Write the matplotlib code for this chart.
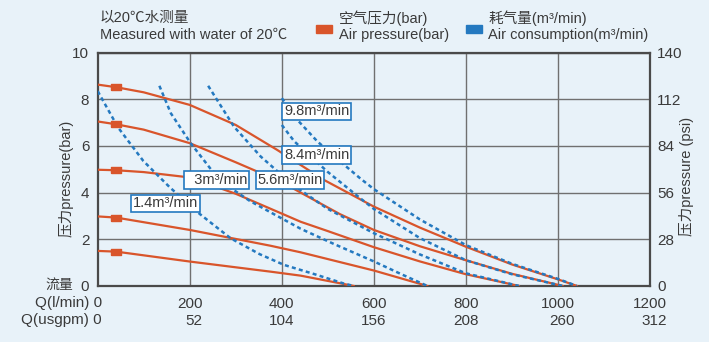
import matplotlib.pyplot as plt
from matplotlib.patches import Rectangle

plt.rcParams['font.family'] = ['Liberation Sans', 'Noto Sans CJK SC', 'DejaVu Sans']

# pressure curves (bar) vs flow Q (l/min)
q_86 = [0, 40, 100, 200, 300, 390, 491, 600, 700, 800, 900, 1000, 1041]
p_86 = [8.63, 8.52, 8.3, 7.76, 6.9, 5.83, 4.55, 3.4, 2.5, 1.68, 0.92, 0.28, 0]
q_7 = [0, 40, 100, 200, 300, 400, 441, 526, 600, 700, 800, 900, 1010]
p_7 = [7.05, 6.93, 6.7, 6.12, 5.3, 4.45, 4.0, 3.08, 2.4, 1.7, 1.1, 0.52, 0]
q_5 = [0, 40, 100, 200, 300, 400, 441, 500, 600, 700, 800, 915]
p_5 = [4.98, 4.96, 4.88, 4.65, 3.95, 3.1, 2.75, 2.35, 1.66, 1.05, 0.5, 0]
q_3 = [0, 40, 200, 376, 441, 600, 716]
p_3 = [2.98, 2.93, 2.4, 1.72, 1.44, 0.66, 0]
q_15 = [0, 40, 202, 376, 441, 556]
p_15 = [1.5, 1.47, 1.04, 0.61, 0.44, 0]

# air consumption lines
q_c14 = [0, 44, 99, 157, 222, 289, 352, 405, 470, 535, 556]
p_c14 = [8.35, 6.8, 5.36, 4.22, 3.08, 2.04, 1.36, 0.9, 0.51, 0.1, 0]
q_c3 = [134, 159, 202, 246, 289, 330, 376, 441, 513, 600, 660, 716]
p_c3 = [8.58, 7.4, 6.12, 5.0, 4.2, 3.65, 3.15, 2.45, 1.8, 1.05, 0.5, 0]
q_c56 = [240, 296, 354, 400, 441, 500, 600, 700, 800, 915]
p_c56 = [8.58, 6.83, 5.55, 4.75, 4.1, 3.3, 2.26, 1.35, 0.54, 0]
q_c84 = [400, 427, 499, 571, 600, 700, 800, 900, 1010]
p_c84 = [6.9, 6.2, 4.9, 3.75, 3.3, 2.05, 1.1, 0.5, 0]
q_c98 = [400, 437, 477, 520, 571, 600, 700, 800, 900, 1000, 1041]
p_c98 = [8.05, 7.05, 6.2, 5.45, 4.6, 4.15, 2.85, 1.75, 0.95, 0.3, 0]

labels = ['1.4m³/min', '  3m³/min', '5.6m³/min', '8.4m³/min', '9.8m³/min']
label_q = [147, 259, 418, 476, 476]
label_p = [3.54, 4.54, 4.54, 5.62, 7.48]

q_lmin = [200, 400, 600, 800, 1000, 1200]
q_gpm = [52, 104, 156, 208, 260, 312]
psi = [0, 28, 56, 84, 112, 140]

orange = '#d9552b'
blue = '#2479c0'
txt = '#3a3a3a'
bg = '#e8f2f9'
rect_marker = [(-1, -0.55), (1, -0.55), (1, 0.55), (-1, 0.55), (-1, -0.55)]

fig = plt.figure(figsize=(7.09, 3.42), dpi=100)
fig.patch.set_facecolor(bg)
ax = fig.add_axes([0.1378, 0.164, 0.779, 0.682])
ax.set_facecolor(bg)
ax.set_xlim(0, 1200)
ax.set_ylim(0, 10)

for q, p in [(q_86, p_86), (q_7, p_7), (q_5, p_5), (q_3, p_3), (q_15, p_15)]:
    ax.plot(q, p, color=orange, lw=1.6, zorder=3)
    ax.plot(q[1], p[1], marker=rect_marker, color=orange, ms=7.5, zorder=4)

for q, p in [(q_c14, p_c14), (q_c3, p_c3), (q_c56, p_c56), (q_c84, p_c84), (q_c98, p_c98)]:
    ax.plot(q, p, color=blue, lw=1.8, dashes=(1.6, 1.3), zorder=3)

for s, x, y in zip(labels, label_q, label_p):
    ax.text(x, y, s, ha='center', va='center', fontsize=10.5, color=txt, zorder=6,
            bbox=dict(boxstyle='square,pad=0.12', fc='white', ec=blue, lw=1.2))

ax.set_xticks(q_lmin)
ax.set_xticklabels([f'{a}\n{b}' for a, b in zip(q_lmin, q_gpm)], fontsize=11, color=txt,
                   multialignment='right', linespacing=1.3)
ax.set_yticks(range(0, 11, 2))
ax.set_yticklabels([str(v) for v in range(0, 11, 2)], fontsize=11, color=txt)
ax.tick_params(length=0, pad=6)
ax.tick_params(axis='x', pad=8)
ax.grid(color='#707070', lw=1)
ax.set_axisbelow(True)
for sp in ax.spines.values():
    sp.set_color('#4a4a4a')
    sp.set_linewidth(1.6)

ax2 = ax.twinx()
ax2.set_ylim(0, 140)
ax2.set_yticks(psi)
ax2.set_yticklabels([str(v) for v in psi], fontsize=11, color=txt)
ax2.tick_params(length=0, pad=5)
for sp in ax2.spines.values():
    sp.set_visible(False)

fig.text(102 / 709, 1 - 296 / 342, 'Q(l/min) 0\nQ(usgpm) 0', ha='right', va='top',
         fontsize=11, color=txt, multialignment='right', linespacing=1.3)
fig.text(73 / 709, 1 - 285 / 342, '流量', ha='right', va='center', fontsize=10, color=txt)
fig.text(66 / 709, 1 - 178 / 342, '压力pressure(bar)', rotation=90, ha='center', va='center',
         fontsize=10.5, color=txt)
fig.text(687 / 709, 1 - 176 / 342, '压力pressure (psi)', rotation=90, ha='center', va='center',
         fontsize=10.5, color=txt)

fig.text(100 / 709, 1 - 18 / 342, '以20℃水测量', ha='left', va='center', fontsize=10.5, color=txt)
fig.text(100 / 709, 1 - 35 / 342, 'Measured with water of 20℃', ha='left', va='center',
         fontsize=10.5, color=txt)

fig.patches.append(Rectangle((316 / 709, 1 - 33 / 342), 16 / 709, 8 / 342, color=orange,
                             transform=fig.transFigure))
fig.text(339 / 709, 1 - 18 / 342, '空气压力(bar)', ha='left', va='center', fontsize=10.5, color=txt)
fig.text(339 / 709, 1 - 35 / 342, 'Air pressure(bar)', ha='left', va='center', fontsize=10.5, color=txt)
fig.patches.append(Rectangle((466 / 709, 1 - 33 / 342), 16 / 709, 8 / 342, color=blue,
                             transform=fig.transFigure))
fig.text(488 / 709, 1 - 18 / 342, '耗气量(m³/min)', ha='left', va='center', fontsize=10.5, color=txt)
fig.text(488 / 709, 1 - 35 / 342, 'Air consumption(m³/min)', ha='left', va='center',
         fontsize=10.5, color=txt)

fig.savefig('out.png', dpi=100, facecolor=bg)
